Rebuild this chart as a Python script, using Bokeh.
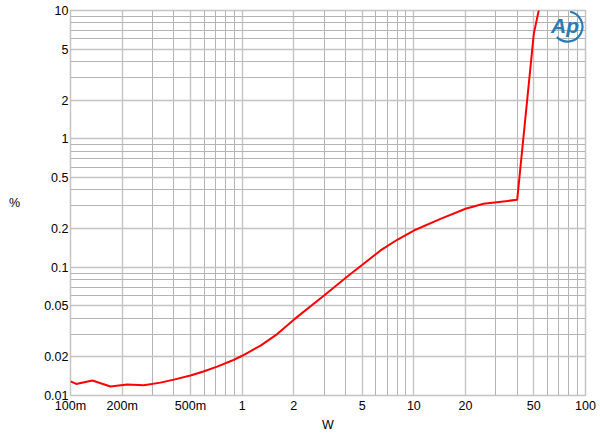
import math
from bokeh.plotting import figure
from bokeh.models import FixedTicker, Label
from bokeh.embed import file_html
from bokeh.resources import INLINE

# Data (THD+N % vs output power W)
power_w = [0.1, 0.108, 0.134, 0.171, 0.214, 0.267, 0.334, 0.40, 0.5, 0.595,
           0.715, 0.89, 1.0, 1.28, 1.6, 2.0, 3.0, 4.1, 5.1, 6.4, 8.0, 10.0,
           14.3, 20.0, 25.5, 40.0, 50.0, 56.0]
thd_pct = [0.0129, 0.0123, 0.0131, 0.01175, 0.0122, 0.0120, 0.0126, 0.0133,
           0.0143, 0.0154, 0.0168, 0.0189, 0.0204, 0.0245, 0.0301, 0.039,
           0.0602, 0.0845, 0.1063, 0.135, 0.1635, 0.193, 0.238, 0.285, 0.312,
           0.335, 6.6, 13.5]

x_ticks = [0.1, 0.2, 0.5, 1, 2, 5, 10, 20, 50, 100]
x_tick_labels = ["100m", "200m", "500m", "1", "2", "5", "10", "20", "50", "100"]
y_ticks = [0.01, 0.02, 0.05, 0.1, 0.2, 0.5, 1, 2, 5, 10]
y_tick_labels = ["0.01", "0.02", "0.05", "0.1", "0.2", "0.5", "1", "2", "5", "10"]

x_minor = [k * 10.0 ** d for d in (-1, 0, 1) for k in range(1, 10)] + [100]
y_minor = [k * 10.0 ** d for d in (-2, -1, 0) for k in range(1, 10)] + [10]

FONT = "Liberation Sans"
FS = "12.5px"

p = figure(width=600, height=439, x_axis_type="log", y_axis_type="log",
           x_range=(0.1, 100), y_range=(0.01, 10),
           output_backend="svg", toolbar_location=None,
           min_border_left=70, min_border_right=15,
           min_border_top=10, min_border_bottom=44)

p.background_fill_color = "white"
p.border_fill_color = "white"
p.outline_line_color = "#c4c4c4"
p.outline_line_width = 1.5

p.xaxis.ticker = FixedTicker(ticks=x_ticks, minor_ticks=x_minor)
p.yaxis.ticker = FixedTicker(ticks=y_ticks, minor_ticks=y_minor)
p.xaxis.major_label_overrides = {t: l for t, l in zip(x_ticks, x_tick_labels)}
p.yaxis.major_label_overrides = {t: l for t, l in zip(y_ticks, y_tick_labels)}

for ax in (p.xaxis, p.yaxis):
    ax.axis_line_color = None
    ax.major_tick_line_color = None
    ax.minor_tick_line_color = None
    ax.major_tick_out = 0
    ax.minor_tick_out = 0
    ax.major_label_text_font = FONT
    ax.major_label_text_font_size = FS
    ax.major_label_text_color = "black"
    ax.axis_label_text_font = FONT
    ax.axis_label_text_font_size = FS
    ax.axis_label_text_font_style = "normal"
    ax.axis_label_text_color = "black"

p.xaxis.axis_label = "W"
p.xaxis.major_label_standoff = 3
p.xaxis.axis_label_standoff = 2
p.yaxis.axis_label = "%"
p.yaxis.axis_label_orientation = "horizontal"
p.yaxis.major_label_standoff = 2
p.yaxis.axis_label_standoff = 21

for g in (p.xgrid, p.ygrid):
    g.grid_line_color = "#c4c4c4"
    g.grid_line_width = 1.4
    g.minor_grid_line_color = "#b4b4b4"
    g.minor_grid_line_width = 1

p.line(power_w, thd_pct, line_color="#ff0000", line_width=2)

# Audio Precision logo
logo = Label(x=76, y=7.6, text="Ap", text_color="#2a7ab8",
             text_font=FONT, text_font_size="21px", text_font_style="bold italic",
             text_align="center", text_baseline="middle")
p.add_layout(logo)
p.arc(x=[78.5], y=[7.5], radius=15, radius_units="screen",
      start_angle=math.radians(-135), end_angle=math.radians(80),
      line_color="#2a7ab8", line_width=2.2)

open("out.html", "w").write(file_html(p, INLINE))
